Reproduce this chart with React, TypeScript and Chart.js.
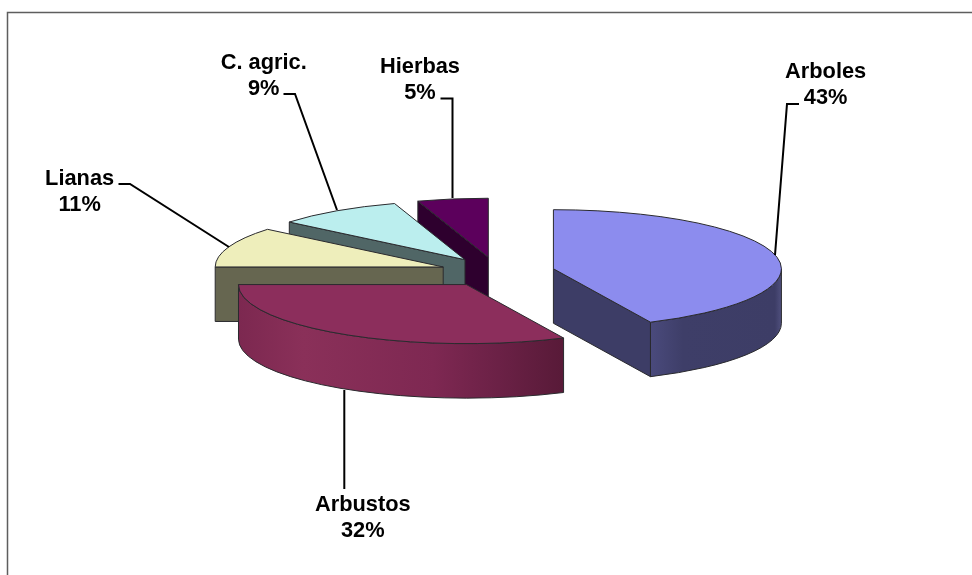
import React, { useEffect, useRef } from "react";
import { Chart } from "chart.js/auto";

const categories = ["Arboles", "Arbustos", "Lianas", "C. agric.", "Hierbas"];
const shares = [43, 32, 11, 9, 5];
const topColors = ["#8C8CEE", "#8C2E5C", "#EEEEBB", "#BBEEEE", "#5C005C"];
const faceColors = ["#3D3D66", "#5A1A3A", "#666650", "#506666", "#2E002E"];
const wallStops: [number, string][][] = [
  [[0, "#4A4A7C"], [0.25, "#3E3E68"], [0.95, "#3D3D66"], [1, "#50507E"]],
  [[0, "#7C2850"], [0.2, "#8A3059"], [0.6, "#7E2852"], [0.8, "#6B2146"], [1, "#581A38"]],
  [[0, "#666650"], [1, "#666650"]],
  [[0, "#506666"], [1, "#506666"]],
  [[0, "#2E002E"], [1, "#2E002E"]],
];
// Back-to-front painting sequence for the extruded slices.
const paintOrder = [4, 3, 2, 0, 1];

// Leader paths and label anchors, one entry per category.
const leaderPaths: [number, number][][] = [
  [[775, 255], [787, 104], [799, 104]],
  [[344.3, 390], [344.3, 489]],
  [[229, 247], [130, 184], [118.5, 184]],
  [[337, 210], [295, 94], [283.5, 94]],
  [[452.5, 198], [452.5, 98.5], [440.5, 98.5]],
];
const labelAnchors: [number, number][] = [
  [825.6, 78.3],
  [362.8, 511],
  [79.6, 185],
  [263.7, 68.5],
  [420, 72.8],
];

const TILT = 0.259;
const EXPLODE = 57.5;
const DEPTH = 54.5;
const OUTLINE = "#2A2A2E";

const pie3d = {
  id: "pie3d",
  // The flat arcs are replaced by a tilted, extruded rendering of the same elements.
  beforeDatasetDraw(chart: any) {
    const ctx: CanvasRenderingContext2D = chart.ctx;
    const arcs = chart.getDatasetMeta(0).data;

    const stroke = () => {
      ctx.lineWidth = 1;
      ctx.strokeStyle = OUTLINE;
      ctx.stroke();
    };

    paintOrder.forEach((i) => {
      const arc = arcs[i];
      const { x, y, startAngle, endAngle, outerRadius: r } = arc.getProps(
        ["x", "y", "startAngle", "endAngle", "outerRadius"],
        true
      );
      const mid = (startAngle + endAngle) / 2;
      const ax = x + Math.cos(mid) * EXPLODE;
      const ay = y + Math.sin(mid) * EXPLODE * TILT;
      const rim = (t: number): [number, number] => [
        ax + Math.cos(t) * r,
        ay + Math.sin(t) * r * TILT,
      ];

      const radialFace = (t: number) => {
        const [px, py] = rim(t);
        ctx.beginPath();
        ctx.moveTo(ax, ay);
        ctx.lineTo(px, py);
        ctx.lineTo(px, py + DEPTH);
        ctx.lineTo(ax, ay + DEPTH);
        ctx.closePath();
        ctx.fillStyle = faceColors[i];
        ctx.fill();
        stroke();
      };
      if (Math.cos(startAngle) < -1e-6) radialFace(startAngle);
      if (Math.cos(endAngle) > 1e-6) radialFace(endAngle);

      // Outer wall: only the part of the rim on the near half of the ellipse.
      const a0 = Math.max(startAngle, 0);
      const a1 = Math.min(endAngle, Math.PI);
      if (a1 > a0) {
        const [x0] = rim(a1);
        const [x1] = rim(a0);
        const grad = ctx.createLinearGradient(x0, 0, x1, 0);
        wallStops[i].forEach(([pos, col]) => grad.addColorStop(pos, col));
        ctx.beginPath();
        ctx.save();
        ctx.translate(ax, ay);
        ctx.scale(1, TILT);
        ctx.arc(0, 0, r, a0, a1);
        ctx.restore();
        ctx.save();
        ctx.translate(ax, ay + DEPTH);
        ctx.scale(1, TILT);
        ctx.arc(0, 0, r, a1, a0, true);
        ctx.restore();
        ctx.closePath();
        ctx.fillStyle = grad;
        ctx.fill();
        stroke();
      }

      // Top surface of the slice.
      ctx.beginPath();
      ctx.moveTo(ax, ay);
      ctx.save();
      ctx.translate(ax, ay);
      ctx.scale(1, TILT);
      ctx.arc(0, 0, r, startAngle, endAngle);
      ctx.restore();
      ctx.closePath();
      ctx.fillStyle = arc.options.backgroundColor;
      ctx.fill();
      stroke();
    });
    return false;
  },
  afterDraw(chart: any) {
    const ctx: CanvasRenderingContext2D = chart.ctx;
    ctx.save();

    // Chart frame: only the top and left edges fall inside the page.
    ctx.beginPath();
    ctx.moveTo(7.5, chart.height);
    ctx.lineTo(7.5, 12.5);
    ctx.lineTo(chart.width, 12.5);
    ctx.strokeStyle = "#5E5E5E";
    ctx.lineWidth = 1.5;
    ctx.stroke();

    // Leader lines.
    ctx.strokeStyle = "#000000";
    ctx.lineWidth = 2;
    ctx.lineJoin = "miter";
    leaderPaths.forEach((path) => {
      ctx.beginPath();
      path.forEach(([px, py], n) => (n ? ctx.lineTo(px, py) : ctx.moveTo(px, py)));
      ctx.stroke();
    });

    // Two-line category labels.
    ctx.fillStyle = "#000000";
    ctx.font = 'bold 21.8px "Liberation Sans", Arial, sans-serif';
    ctx.textAlign = "center";
    ctx.textBaseline = "alphabetic";
    categories.forEach((name, i) => {
      const [lx, ly] = labelAnchors[i];
      ctx.fillText(name, lx, ly);
      ctx.fillText(`${shares[i]}%`, lx, ly + 26);
    });
    ctx.restore();
  },
};

export default function App() {
  const ref = useRef<HTMLCanvasElement>(null);
  useEffect(() => {
    const chart = new Chart(ref.current!, {
      type: "pie",
      data: {
        labels: categories,
        datasets: [
          {
            data: shares,
            backgroundColor: topColors,
            borderWidth: 0,
            hoverBorderWidth: 0,
          },
        ],
      },
      options: {
        responsive: false,
        animation: false,
        events: [],
        layout: { padding: { left: 269.3, right: 246.7, top: 44, bottom: 75 } },
        plugins: { legend: { display: false }, tooltip: { enabled: false } },
      },
      plugins: [pie3d],
    } as any);
    return () => chart.destroy();
  }, []);
  return (
    <canvas
      ref={ref}
      width={972}
      height={575}
      style={{ position: "fixed", left: 0, top: 0, display: "block", background: "#ffffff" }}
    />
  );
}
